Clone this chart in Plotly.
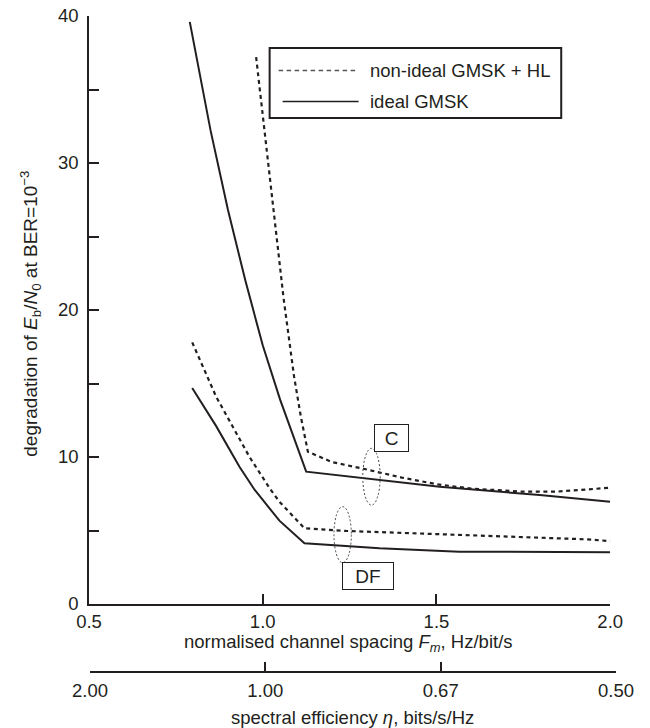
import plotly.graph_objects as go

# ---------------- data ----------------
fm_c_ideal = [0.79, 0.85, 0.90, 0.95, 1.00, 1.05, 1.125, 1.337, 1.509, 1.797, 2.0]
deg_c_ideal = [39.6, 32.2, 26.8, 22.0, 17.6, 13.9, 9.0, 8.44, 7.98, 7.41, 6.96]

fm_c_nonideal = [0.981, 1.02, 1.06, 1.09, 1.11, 1.13, 1.2, 1.29, 1.4, 1.5, 1.6, 1.75, 1.85, 2.0]
deg_c_nonideal = [37.2, 29.0, 20.8, 15.5, 12.7, 10.36, 9.65, 9.2, 8.6, 8.15, 7.85, 7.64, 7.65, 7.91]

fm_df_nonideal = [0.797, 0.866, 0.962, 1.02, 1.048, 1.12, 1.24, 1.566, 1.93, 2.0]
deg_df_nonideal = [17.8, 14.1, 10.0, 7.87, 6.96, 5.15, 4.97, 4.68, 4.40, 4.28]

fm_df_ideal = [0.797, 0.866, 0.933, 0.977, 1.048, 1.12, 1.336, 1.566, 2.0]
deg_df_ideal = [14.7, 12.1, 9.34, 7.76, 5.67, 4.13, 3.79, 3.56, 3.52]

fm_ticks = [0.5, 1.0, 1.5, 2.0]
fm_tick_labels = ["0.5", "1.0", "1.5", "2.0"]
eta_tick_labels = ["2.00", "1.00", "0.67", "0.50"]
deg_ticks = [0, 5, 10, 15, 20, 25, 30, 35, 40]
deg_tick_labels = ["0", "", "10", "", "20", "", "30", "", "40"]

legend_labels = ["non-ideal GMSK + HL", "ideal GMSK"]
group_labels = ["C", "DF"]

# ---------------- style ----------------
INK = "#231f20"
FONT = "Liberation Sans, Arial, Helvetica, sans-serif"
FS = 18.5
DASH = "4px,3.6px"

fig = go.Figure()

for xs, ys, dashed in [
    (fm_c_ideal, deg_c_ideal, False),
    (fm_c_nonideal, deg_c_nonideal, True),
    (fm_df_nonideal, deg_df_nonideal, True),
    (fm_df_ideal, deg_df_ideal, False),
]:
    fig.add_trace(go.Scatter(
        x=xs, y=ys, mode="lines",
        line=dict(color=INK, width=2.2 if dashed else 2, dash=DASH if dashed else "solid"),
        showlegend=False, hoverinfo="skip",
    ))

# dummy trace so the secondary (spectral efficiency) axis is drawn
fig.add_trace(go.Scatter(x=[0.5, 2.0], y=[0, 0], xaxis="x2", yaxis="y",
                         mode="lines", line=dict(width=0), opacity=0,
                         showlegend=False, hoverinfo="skip"))

L, R, T, B = 89.3, 33.5, 16, 56
W, H = 650, 728
PW = W - L - R
PH = H - T - B

def px(xpix):
    return (xpix - L) / PW

def py(ypix):
    return (H - B - ypix) / PH

ydom0 = py(604)

axis_common = dict(
    showline=True, linecolor=INK, linewidth=1.5,
    ticks="inside", tickcolor=INK, tickwidth=1.5,
    showgrid=False, zeroline=False,
    tickfont=dict(family=FONT, size=FS, color=INK),
)

fig.update_layout(
    width=W, height=H,
    margin=dict(l=L, r=R, t=T, b=B, autoexpand=False),
    paper_bgcolor="white", plot_bgcolor="rgba(0,0,0,0)",
    font=dict(family=FONT, size=FS, color=INK),
    xaxis=dict(range=[0.5, 2.0], domain=[0, px(610.7)], anchor="y",
               tickvals=fm_ticks, ticktext=fm_tick_labels, ticklen=10,
               ticklabelstandoff=0, **axis_common),
    xaxis2=dict(range=[0.5, 2.0], domain=[px(90.3), 1], anchor="free", position=0,
                side="bottom",
                tickvals=fm_ticks, ticktext=eta_tick_labels, ticklen=9,
                ticklabelstandoff=2, **axis_common),
    yaxis=dict(range=[0, 40], domain=[ydom0, 1], anchor="x",
               tickvals=deg_ticks, ticktext=deg_tick_labels, ticklen=10,
               ticklabelstandoff=5, **axis_common),
    showlegend=False,
)

shapes = []
annotations = []

# axis titles
annotations.append(dict(
    xref="paper", yref="paper", x=px(349), y=py(643), xanchor="center", yanchor="middle",
    text="normalised channel spacing <i>F<sub>m</sub></i>, Hz/bit/s", showarrow=False,
    font=dict(family=FONT, size=FS, color=INK)))
annotations.append(dict(
    xref="paper", yref="paper", x=px(353), y=py(717), xanchor="center", yanchor="middle",
    text="spectral efficiency <i>η</i>, bits/s/Hz", showarrow=False,
    font=dict(family=FONT, size=FS, color=INK)))
annotations.append(dict(
    xref="paper", yref="paper", x=px(30), y=py(314), xanchor="center", yanchor="middle",
    textangle=-90,
    text="degradation of <i>E</i><sub>b</sub>/<i>N</i><sub>0</sub> at BER=10<sup>−3</sup>",
    showarrow=False, font=dict(family=FONT, size=19, color=INK)))

# manual legend
shapes.append(dict(type="rect", xref="paper", yref="paper",
                   x0=px(270), x1=px(561.7), y0=py(118), y1=py(48),
                   line=dict(color=INK, width=2), fillcolor="white", layer="above"))
shapes.append(dict(type="line", xref="paper", yref="paper",
                   x0=px(279), x1=px(356), y0=py(70.5), y1=py(70.5),
                   line=dict(color="#555555", width=1.6, dash="4.5px,3.5px")))
shapes.append(dict(type="line", xref="paper", yref="paper",
                   x0=px(283), x1=px(359), y0=py(101.5), y1=py(101.5),
                   line=dict(color=INK, width=1.6)))
for lab, ypix in zip(legend_labels, [70.5, 101.5]):
    annotations.append(dict(xref="paper", yref="paper", x=px(368), y=py(ypix),
                            xanchor="left", yanchor="middle", text=lab, showarrow=False,
                            font=dict(family=FONT, size=FS, color=INK)))

# dotted ellipses grouping the curves
for x0, x1, y0, y1 in [(1.288, 1.338, 6.73, 10.59), (1.205, 1.255, 2.81, 6.62)]:
    shapes.append(dict(type="circle", xref="x", yref="y", x0=x0, x1=x1, y0=y0, y1=y1,
                       line=dict(color="#444444", width=1, dash="2px,2px")))

# boxed group labels
for lab, xc, yc, w in [(group_labels[0], 1.370, 11.26, 33), (group_labels[1], 1.304, 1.90, 50)]:
    annotations.append(dict(xref="x", yref="y", x=xc, y=yc, xanchor="center", yanchor="middle",
                            text=lab, showarrow=False, width=w, height=26,
                            bordercolor=INK, borderwidth=1, borderpad=0, bgcolor="white",
                            font=dict(family=FONT, size=19, color=INK)))

fig.update_layout(shapes=shapes, annotations=annotations)
fig.write_html("out.html")
